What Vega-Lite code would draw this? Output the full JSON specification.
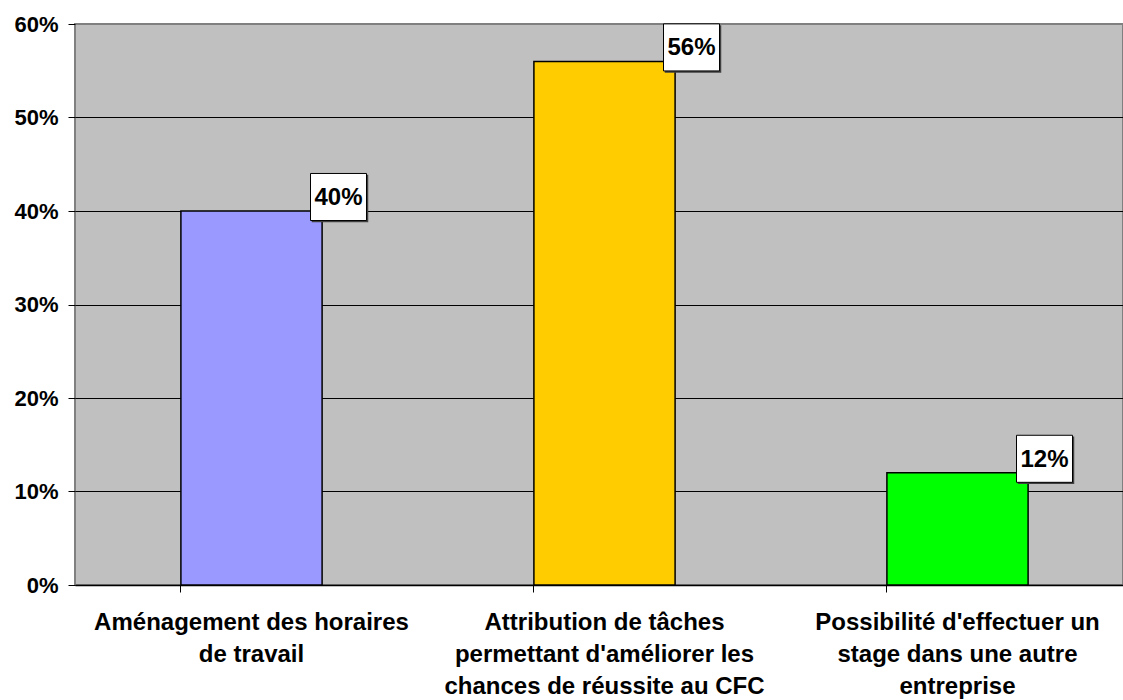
{
  "$schema": "https://vega.github.io/schema/vega-lite/v6.json",
  "width": 1048,
  "height": 561,
  "autosize": {"type": "none"},
  "padding": {"left": 75, "top": 24, "right": 0, "bottom": 115},
  "background": "white",
  "config": {
    "view": {"fill": "#C0C0C0", "stroke": "#808080", "strokeWidth": 2},
    "font": "Liberation Sans"
  },
  "data": {
    "values": [
      {"cat": "Aménagement des horaires|de travail", "value": 0.40, "label": "40%", "color": "#9999FF"},
      {"cat": "Attribution de tâches|permettant d'améliorer les|chances de réussite au CFC", "value": 0.56, "label": "56%", "color": "#FFCC00"},
      {"cat": "Possibilité d'effectuer un|stage dans une autre|entreprise", "value": 0.12, "label": "12%", "color": "#00FF00"}
    ]
  },
  "encoding": {
    "x": {
      "field": "cat", "type": "nominal", "sort": null,
      "scale": {"paddingInner": 0.6, "paddingOuter": 0.3, "range": [0, 1059]},
      "axis": {
        "title": null, "labelAngle": 0, "bandPosition": 0,
        "labelExpr": "split(datum.label, '|')",
        "labelFont": "Liberation Sans", "labelFontSize": 24, "labelFontWeight": "bold",
        "labelColor": "black", "labelLineHeight": 32, "labelPadding": 18, "labelBaseline": "top",
        "labelLimit": 400,
        "tickSize": 7, "tickColor": "black", "domainColor": "black", "domainWidth": 1.5,
        "grid": false
      }
    },
    "y": {
      "field": "value", "type": "quantitative",
      "scale": {"domain": [0, 0.6], "nice": false},
      "axis": {
        "title": null, "format": ".0%", "values": [0, 0.1, 0.2, 0.3, 0.4, 0.5, 0.6],
        "labelFont": "Liberation Sans", "labelFontSize": 22, "labelFontWeight": "bold",
        "labelColor": "black", "labelPadding": 10,
        "tickSize": 7, "tickColor": "black", "domain": false,
        "grid": true,
        "gridColor": {"condition": {"test": "datum.value === 0.6", "value": "#808080"}, "value": "black"},
        "gridOpacity": 1, "gridWidth": 1.2
      }
    }
  },
  "layer": [
    {
      "mark": {"type": "bar", "stroke": "black", "strokeWidth": 1.5},
      "encoding": {
        "color": {"field": "color", "type": "nominal", "scale": null}
      }
    },
    {
      "mark": {"type": "point", "filled": true, "fill": "#404040", "opacity": 1,
               "shape": "M-1,-0.84 L1,-0.84 L1,0.84 L-1,0.84 Z", "size": 3192,
               "xOffset": 88.5, "yOffset": -12.5, "strokeWidth": 0},
      "encoding": {}
    },
    {
      "mark": {"type": "point", "filled": true, "fill": "white", "opacity": 1,
               "stroke": "black", "strokeWidth": 1,
               "shape": "M-1,-0.84 L1,-0.84 L1,0.84 L-1,0.84 Z", "size": 3136,
               "xOffset": 87, "yOffset": -14},
      "encoding": {}
    },
    {
      "mark": {"type": "text", "font": "Liberation Sans", "fontSize": 24, "fontWeight": "bold",
               "color": "black", "xOffset": 87, "yOffset": -13, "baseline": "middle", "align": "center"},
      "encoding": {"text": {"field": "label"}}
    }
  ]
}
